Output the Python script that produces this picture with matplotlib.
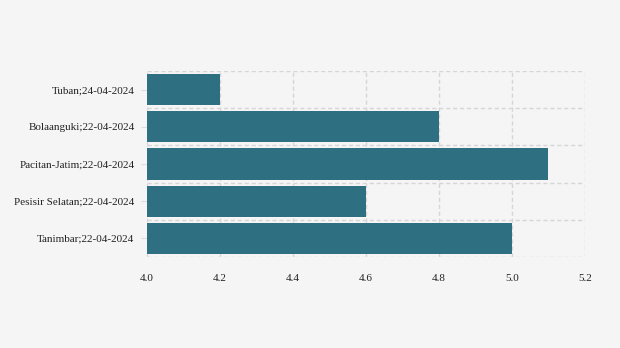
import matplotlib.pyplot as plt
import numpy as np

labels = ["Tuban;24-04-2024", "Bolaanguki;22-04-2024", "Pacitan-Jatim;22-04-2024",
          "Pesisir Selatan;22-04-2024", "Tanimbar;22-04-2024"]
values = [4.2, 4.8, 5.1, 4.6, 5.0]
xticks = [4.0, 4.2, 4.4, 4.6, 4.8, 5.0, 5.2]

plt.rcParams["font.family"] = ["Liberation Serif", "DejaVu Serif"]

fig = plt.figure(figsize=(6.2, 3.48), dpi=100, facecolor="#f5f5f5")
ax = fig.add_axes([147 / 620, 1 - 257 / 348, 438 / 620, 186 / 348])
ax.set_facecolor("#f5f5f5")

y = np.arange(len(labels))
ax.barh(y, [v - 4.0 for v in values], left=4.0, height=0.84, color="#2f6f82", zorder=3)

ax.set_xlim(4.0, 5.2)
ax.set_ylim(len(labels) - 0.5, -0.5)
ax.set_xticks(xticks)
ax.set_xticklabels([f"{t:.1f}" for t in xticks], fontsize=8)
ax.set_yticks(y)
ax.set_yticklabels(labels, fontsize=8)
ax.set_yticks(np.arange(-0.5, len(labels), 1), minor=True)

ax.grid(axis="x", which="major", color="#d6d6d6", linestyle=(0, (3, 2)), linewidth=1.0, zorder=1)
ax.grid(axis="y", which="minor", color="#d6d6d6", linestyle=(0, (3, 2)), linewidth=1.0, zorder=1)
ax.set_axisbelow(True)
for s in ax.spines.values():
    s.set_visible(False)
ax.tick_params(axis="x", length=0, pad=12, colors="#222222")
ax.tick_params(axis="y", which="major", length=4, color="#dddddd", pad=5, labelcolor="#222222")
ax.tick_params(axis="y", which="minor", length=0)

fig.savefig("out.png", dpi=100, facecolor=fig.get_facecolor())
